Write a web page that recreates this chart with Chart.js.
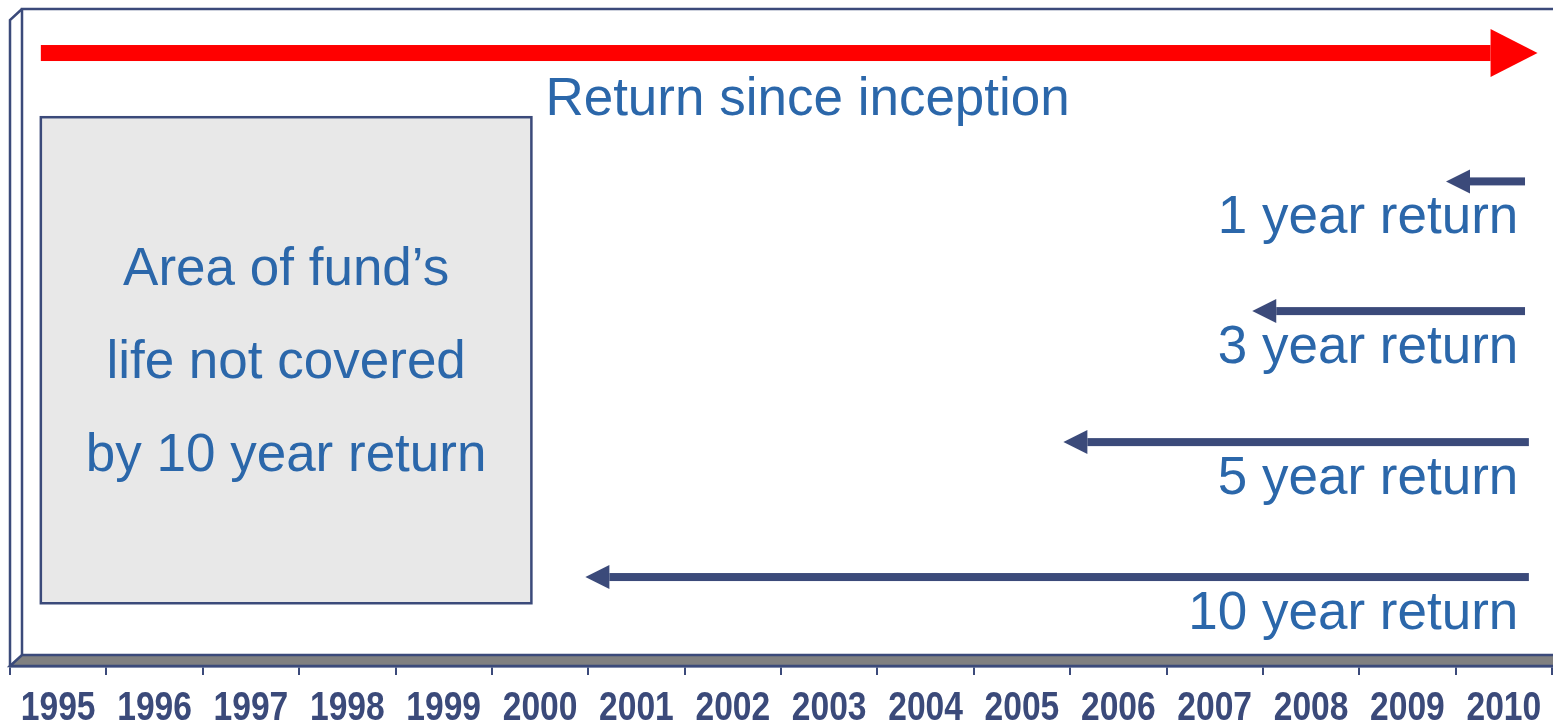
<!DOCTYPE html>
<html>
<head>
<meta charset="utf-8">
<script src="https://cdn.jsdelivr.net/npm/chart.js@4.4.1/dist/chart.umd.min.js"></script>
<style>
  html, body { margin: 0; padding: 0; background: #fff; }
  #wrap { width: 1553px; height: 726px; position: relative; }
</style>
</head>
<body>
<div id="wrap"><canvas id="returnsChart"></canvas></div>
<script>
// timeline categories
const YEARS = ['1995', '1996', '1997', '1998', '1999', '2000', '2001', '2002',
  '2003', '2004', '2005', '2006', '2007', '2008', '2009', '2010'];

// arrows: tail and tip in years, row on the (hidden) vertical scale
const ARROW_NAMES = ['Return since inception', '1 year return', '3 year return', '5 year return', '10 year return'];
const ARROW_TAIL = [1995.32, 2010.72, 2010.72, 2010.76, 2010.76];
const ARROW_TIP = [2010.85, 2009.90, 2007.89, 2005.93, 2000.97];
const ARROW_ROW = [0, 0.98, 1.97, 2.97, 4];

// shaded part of the fund's life the 10 year return misses
const GAP_SPAN = [1995.32, 2000.41];
const GAP_ROWS = [0.49, 4.2];
const GAP_TEXT = ['Area of fund\u2019s', 'life not covered', 'by 10 year return'];

const NAVY = '#3b4a7a';
const TEXT_BLUE = '#2b67aa';
const RED = '#ff0000';
const DEPTH_X = 12, DEPTH_Y = 11;   // fake 3d offset of the back wall
const TEXT_FONT = '53px "Liberation Sans", Arial, sans-serif';

// back wall, side and floor like the old office 3d chart
const frame3d = {
  id: 'frame3d',
  beforeDraw(chart) {
    const { ctx, chartArea: a, width } = chart;
    ctx.save();
    ctx.lineWidth = 2.5;
    ctx.strokeStyle = NAVY;

    // floor
    ctx.beginPath();
    ctx.moveTo(a.left, a.bottom);
    ctx.lineTo(a.left + DEPTH_X, a.bottom - DEPTH_Y);
    ctx.lineTo(width + DEPTH_X, a.bottom - DEPTH_Y);
    ctx.lineTo(width + DEPTH_X, a.bottom);
    ctx.closePath();
    ctx.fillStyle = '#808080';
    ctx.fill();
    ctx.stroke();

    // back wall edges
    ctx.beginPath();
    ctx.moveTo(a.left + DEPTH_X, a.bottom - DEPTH_Y);
    ctx.lineTo(a.left + DEPTH_X, a.top);
    ctx.lineTo(width, a.top);
    ctx.stroke();

    // side wall
    ctx.beginPath();
    ctx.moveTo(a.left, a.bottom);
    ctx.lineTo(a.left, a.top + DEPTH_Y);
    ctx.lineTo(a.left + DEPTH_X, a.top);
    ctx.stroke();
    ctx.restore();
  },
  afterDatasetsDraw(chart) {
    const { ctx } = chart;
    const xs = chart.scales.xv, ys = chart.scales.y;
    ctx.save();

    // grey box
    const bx1 = xs.getPixelForValue(GAP_SPAN[0]), bx2 = xs.getPixelForValue(GAP_SPAN[1]);
    const by1 = ys.getPixelForValue(GAP_ROWS[0]), by2 = ys.getPixelForValue(GAP_ROWS[1]);
    ctx.fillStyle = '#e8e8e8';
    ctx.fillRect(bx1, by1, bx2 - bx1, by2 - by1);
    ctx.lineWidth = 2.5;
    ctx.strokeStyle = NAVY;
    ctx.strokeRect(bx1, by1, bx2 - bx1, by2 - by1);

    ctx.font = TEXT_FONT;
    ctx.fillStyle = TEXT_BLUE;
    ctx.textAlign = 'center';
    ctx.textBaseline = 'alphabetic';
    const cx = (bx1 + bx2) / 2, cy = (by1 + by2) / 2;
    GAP_TEXT.forEach((t, i) => ctx.fillText(t, cx, cy - 75 + i * 93));

    // arrows
    chart.data.datasets.forEach((ds, i) => {
      const pts = chart.getDatasetMeta(i).data;
      const tail = pts[0], tip = pts[1];
      const first = i === 0;
      const shaft = first ? 16 : 8;
      const headLen = first ? 47 : 24;
      const headH = first ? 48 : 24;
      const dir = tip.x > tail.x ? 1 : -1;
      const base = tip.x - dir * headLen;
      ctx.fillStyle = first ? RED : NAVY;
      ctx.fillRect(Math.min(tail.x, base), tail.y - shaft / 2, Math.abs(base - tail.x), shaft);
      ctx.beginPath();
      ctx.moveTo(tip.x, tip.y);
      ctx.lineTo(base, tip.y - headH / 2);
      ctx.lineTo(base, tip.y + headH / 2);
      ctx.closePath();
      ctx.fill();

      ctx.fillStyle = TEXT_BLUE;
      if (first) {
        ctx.textAlign = 'left';
        ctx.fillText(ds.label, bx2 + 14, tip.y + 62);
      } else {
        ctx.textAlign = 'right';
        ctx.fillText(ds.label, xs.getPixelForValue(2010.65), tip.y + 52);
      }
    });
    ctx.restore();
  },
  // year labels squeezed like a narrow bold face
  afterDraw(chart) {
    const { ctx } = chart;
    const x = chart.scales.x;
    ctx.save();
    ctx.font = 'bold 40px "Liberation Sans", Arial, sans-serif';
    ctx.fillStyle = NAVY;
    ctx.textAlign = 'center';
    ctx.textBaseline = 'alphabetic';
    chart.data.labels.forEach((lab, i) => {
      const px = x.getPixelForValue(i);
      ctx.save();
      ctx.translate(px, 720);
      ctx.scale(0.84, 1);
      ctx.fillText(lab, 0, 0);
      ctx.restore();
    });
    ctx.restore();
  }
};

const datasets = ARROW_NAMES.map((name, i) => ({
  label: name,
  data: [{ x: ARROW_TAIL[i], y: ARROW_ROW[i] }, { x: ARROW_TIP[i], y: ARROW_ROW[i] }],
  xAxisID: 'xv',
  yAxisID: 'y',
  showLine: false,
  pointRadius: 0,
  pointHoverRadius: 0,
}));

new Chart(document.getElementById('returnsChart'), {
  type: 'line',
  data: { labels: YEARS, datasets },
  options: {
    responsive: true,
    maintainAspectRatio: false,
    animation: false,
    layout: { padding: { left: 10, right: 1, top: 9, bottom: 0 } },
    plugins: { legend: { display: false }, tooltip: { enabled: false } },
    scales: {
      x: {
        type: 'category',
        offset: true,
        grid: { display: true, drawOnChartArea: false, offset: true, tickLength: 9, color: NAVY, lineWidth: 2 },
        border: { display: true, color: NAVY, width: 2.5 },
        ticks: { display: false },
        afterFit(scale) { scale.height = 60; }
      },
      xv: { type: 'linear', display: false, min: 1995, max: 2011 },
      y: { type: 'linear', display: false, reverse: true, min: -0.336, max: 4.679 }
    }
  },
  plugins: [frame3d]
});
</script>
</body>
</html>
